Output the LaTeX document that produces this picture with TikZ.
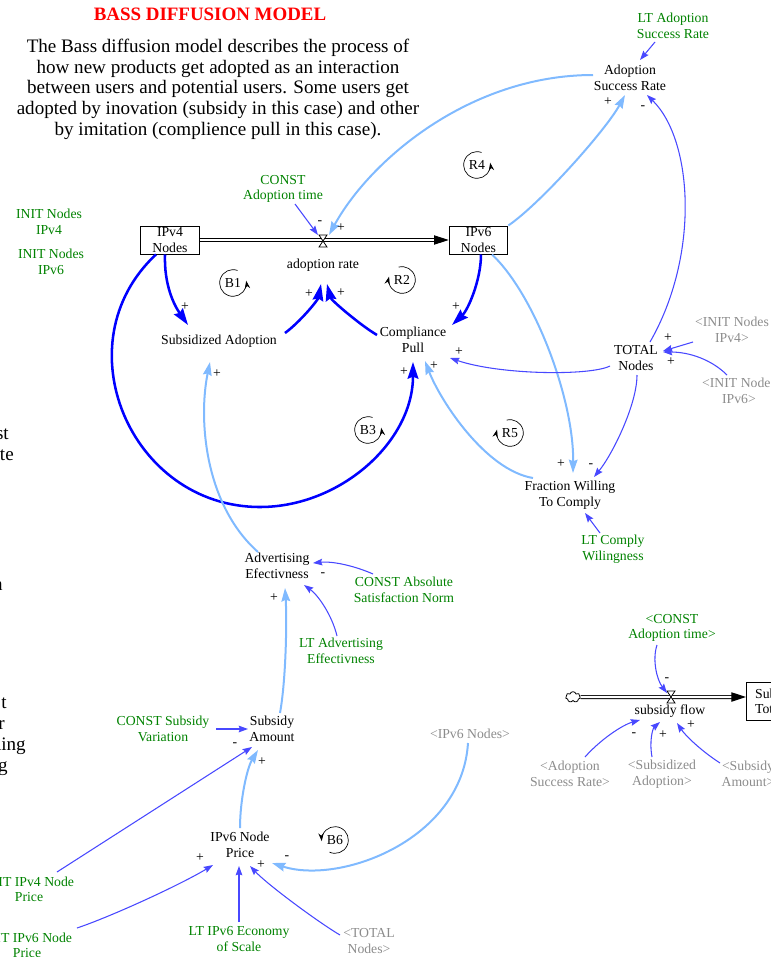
\documentclass[tikz,border=0pt]{standalone}
\usepackage{fontspec}
\setmainfont{Liberation Serif}
\usetikzlibrary{arrows.meta,calc,shapes.symbols}

\definecolor{lnkdark}{RGB}{0,0,255}
\definecolor{lnklight}{RGB}{128,186,255}
\definecolor{lnkthin}{RGB}{72,72,255}
\definecolor{cstgreen}{RGB}{0,130,0}
\definecolor{shadowgray}{RGB}{140,140,140}

\newcommand{\varfont}{\fontsize{10.3}{11.6}\selectfont}
\newcommand{\descfont}{\fontsize{14.3}{15.6}\selectfont}

\tikzset{
  var/.style={font=\varfont, align=center, inner sep=1pt},
  cst/.style={var, text=cstgreen},
  shd/.style={var, text=shadowgray},
  stockbox/.style={var, draw, line width=0.75pt, minimum width=44pt, minimum height=21pt, inner sep=0pt},
  sgn/.style={font=\varfont, inner sep=0pt},
  frag/.style={font=\descfont, anchor=base east, inner sep=0pt},
  dlink/.style={draw=lnkdark, line width=1.9pt, -{Stealth[length=12.5pt,width=8pt,inset=1.5pt]}},
  llink/.style={draw=lnklight, line width=1.5pt, -{Stealth[length=10pt,width=6.5pt,inset=1.2pt]}},
  tlink/.style={draw=lnkthin, line width=0.8pt, -{Stealth[length=7pt,width=5pt,inset=1pt]}},
  pipe/.style={draw=black, line width=0.7pt, double=white, double distance=1.6pt},
  pipehead/.style={draw=black, line width=0.7pt, -{Triangle[length=11pt,width=7pt]}},
  loopid/.style={font=\varfont, inner sep=0pt},
  loopring/.style={draw=black, line width=0.5pt, -{Stealth[length=6pt,width=4pt]}},
  hourglass/.pic={\draw[fill=white, line width=0.6pt] (-4,-6) -- (4,-6) -- (-4,6) -- (4,6) -- cycle;}
}

\begin{document}
\begin{tikzpicture}[x=0.75pt,y=-0.75pt]
\useasboundingbox (0,0) rectangle (771,957);
\clip (0,0) rectangle (771,957);

% heading and explanation
\node[font=\fontsize{14.2}{16}\selectfont\bfseries, text=red, anchor=base, inner sep=0pt] (title) at (210,20.7) {BASS DIFFUSION MODEL};
\node[font=\descfont, align=center, anchor=north, inner sep=0pt] (desc) at (218,38.6)
  {The Bass diffusion model describes the process of\\
   how new products get adopted as an interaction\\
   between users and potential users. Some users get\\
   adopted by inovation (subsidy in this case) and other\\
   by imitation (complience pull in this case).};

% text running in from the left edge
\node[frag] (fa) at (9,439) {st};
\node[frag] (fb) at (14,460) {te};
\node[frag] (fc) at (3,590) {n};
\node[frag] (fd) at (7,708) {t};
\node[frag] (fe) at (5,729) {r};
\node[frag] (ff) at (26,750) {hing};
\node[frag] (fg) at (8,771) {g};

% variables
\node[cst] (ltasr) at (673,26) {LT Adoption\\Success Rate};
\node[var] (asr) at (630,78) {Adoption\\Success Rate};
\node[cst] (cat) at (283,189) {CONST\\Adoption time};
\node[cst] (initv4) at (49,222) {INIT Nodes\\IPv4};
\node[cst] (initv6) at (51,262) {INIT Nodes\\IPv6};
\node[stockbox] (ipv4) at (170,240) {IPv4\\Nodes};
\node[stockbox] (ipv6) at (478.5,240) {IPv6\\Nodes};
\coordinate (valve) at (323,241);
\node[var] (adr) at (323,265) {adoption rate};
\node[var] (sa) at (219,341) {Subsidized Adoption};
\node[var] (cp) at (413,340) {Compliance\\Pull};
\node[var] (tn) at (636,358) {TOTAL\\Nodes};
\node[shd] (iv4sh) at (732,330) {<INIT Nodes\\IPv4>};
\node[shd] (iv6sh) at (739,391) {<INIT Nodes\\IPv6>};
\node[var] (fw) at (570,495) {Fraction Willing\\To Comply};
\node[cst] (lcw) at (613,549) {LT Comply\\Wilingness};
\node[var] (ae) at (277,566) {Advertising\\Efectivness};
\node[cst] (casn) at (404,590) {CONST Absolute\\Satisfaction Norm};
\node[cst] (lae) at (341,651) {LT Advertising\\Effectivness};
\node[cst] (csv) at (163,729) {CONST Subsidy\\Variation};
\node[var] (sam) at (272,729) {Subsidy\\Amount};
\node[shd] (ipv6sh) at (470,734) {<IPv6 Nodes>};
\node[var] (price) at (240,845) {IPv6 Node\\Price};
\node[cst] (lt4) at (29,889.5) {INIT IPv4 Node\\Price};
\node[cst] (lt6) at (27,945.5) {INIT IPv6 Node\\Price};
\node[cst] (lte) at (239,939) {LT IPv6 Economy\\of Scale};
\node[shd] (tnsh) at (369,941) {<TOTAL\\Nodes>};

% subsidy sub-model
\node[draw, cloud, cloud puffs=7, minimum width=11pt, minimum height=8pt, inner sep=0pt, line width=0.6pt] (cloud) at (573,697) {};
\node[var, draw, line width=0.75pt, anchor=west, text width=48pt, align=left, inner xsep=6.5pt, minimum height=28.5pt] (stot) at (746,701.5) {Subsidy\\Total};
\coordinate (svalve) at (671,697);
\node[var] (sf) at (670,711) {subsidy flow};
\node[cst] (cat2) at (672,628) {<CONST\\Adoption time>};
\node[shd] (asrsh) at (570,774) {<Adoption\\Success Rate>};
\node[shd] (sash) at (662,774) {<Subsidized\\Adoption>};
\node[shd] (samsh) at (748,774) {<Subsidy\\Amount>};

% flow pipes and valves
\draw[pipe] (ipv4.east) -- ($(ipv6.west)+(-14,0)$);
\draw[pipehead] ($(ipv6.west)+(-14,0)$) -- (ipv6.west);
\pic at (valve) {hourglass};
\draw[pipe] (cloud.east) -- ($(stot.west)+(-14,-4.5)$);
\draw[pipehead] ($(stot.west)+(-14,-4.5)$) -- ($(stot.west)+(0,-4.5)$);
\pic at (svalve) {hourglass};

% causal links
\draw[tlink] ($(ltasr)+(-18,16)$) -- ($(asr)+(10,-18)$);
\draw[llink] (ipv6.north east) .. controls (540,204) and (606,130) .. ($(asr)+(-5,17)$);
\draw[tlink] ($(tn)+(14,-16)$) .. controls (700,255) and (693,140) .. ($(asr)+(17,17)$);
\draw[llink] ($(asr)+(-37,-3)$) .. controls (470,75) and (370,160) .. ($(valve)+(6,-6)$);
\draw[tlink] ($(cat)+(12,15)$) -- ($(valve)+(-5,-6)$);
\draw[dlink] ($(ipv4.south)+(-5,0)$) .. controls (164,285) and (174,305) .. ($(sa)+(-31,-16)$);
\draw[dlink] ($(ipv4.south)+(-14,0)$) .. controls (61,343) and (130,507) .. (260,507)
   .. controls (340,507) and (413,442) .. ($(cp)+(0,22)$);
\draw[dlink] ($(sa)+(66,-8)$) .. controls (300,322) and (318,300) .. ($(adr)+(-2,19)$);
\draw[dlink] ($(cp)+(-36,-5)$) .. controls (360,325) and (331,300) .. ($(adr)+(4,19)$);
\draw[dlink] ($(ipv6.south)+(2.5,0)$) .. controls (481,280) and (468,310) .. ($(cp)+(39,-15)$);
\draw[llink] ($(ipv6.south)+(13.5,0)$) .. controls (535,295) and (574,400) .. ($(fw)+(3,-22)$);
\draw[tlink] ($(tn)+(-26,8)$) .. controls (590,376) and (500,375) .. ($(cp)+(37,18)$);
\draw[tlink] ($(tn)+(1,17)$) .. controls (637,405) and (612,455) .. ($(fw)+(24,-18)$);
\draw[tlink] ($(iv4sh)+(-39,12)$) -- ($(tn)+(27,-7)$);
\draw[tlink] ($(iv6sh)+(-12,-16)$) .. controls (712,360) and (690,352) .. ($(tn)+(27,-6)$);
\draw[llink] ($(fw)+(-37,-17)$) .. controls (485,470) and (440,400) .. ($(cp)+(12,21)$);
\draw[tlink] ($(lcw)+(-13,-16)$) -- ($(fw)+(15,18)$);
\draw[llink] ($(ae)+(-19,-14)$) .. controls (205,505) and (198,420) .. ($(sa)+(-9,21)$);
\draw[tlink] ($(casn)+(-31,-16)$) .. controls (355,566) and (333,561) .. ($(ae)+(36,-3)$);
\draw[tlink] ($(lae)+(-4,-15)$) .. controls (332,615) and (318,595) .. ($(ae)+(27,19)$);
\draw[llink] ($(sam)+(8,-16)$) .. controls (286,680) and (287,620) .. ($(ae)+(8,22)$);
\draw[tlink] ($(csv)+(53,0)$) -- ($(sam)+(-24,0)$);
\draw[tlink] ($(lt4)+(28,-17.5)$) -- ($(sam)+(-20,18)$);
\draw[llink] ($(price)+(0,-17)$) .. controls (240,800) and (247,768) .. ($(sam)+(-14,21)$);
\draw[tlink] ($(lt6)+(50,-17.5)$) .. controls (110,917) and (180,885) .. ($(price)+(-27,20)$);
\draw[tlink] ($(lte)+(0,-17)$) -- ($(price)+(-1,21)$);
\draw[tlink] ($(tnsh)+(-29,-6)$) .. controls (318,922) and (268,885) .. ($(price)+(10,21)$);
\draw[llink] ($(ipv6sh)+(-2,9)$) .. controls (462,840) and (340,885) .. ($(price)+(32,18)$);
\draw[tlink] ($(cat2)+(-15,17)$) .. controls (652,660) and (657,680) .. ($(svalve)+(-4,-4)$);
\draw[tlink] ($(asrsh)+(15,-17)$) .. controls (600,740) and (622,725) .. ($(sf)+(-30,9)$);
\draw[tlink] ($(sash)+(-10,-17)$) .. controls (649,740) and (653,728) .. ($(sf)+(-10,11)$);
\draw[tlink] ($(samsh)+(-28,-11)$) .. controls (700,750) and (685,735) .. ($(sf)+(7,12)$);

% polarities
\node[sgn] (s1) at (608,102) {+};
\node[sgn] (s2) at (643,108) {-};
\node[sgn] (s3) at (320,223) {-};
\node[sgn] (s4) at (341,228) {+};
\node[sgn] (s5) at (185,307) {+};
\node[sgn] (s6) at (309,294) {+};
\node[sgn] (s7) at (341,293) {+};
\node[sgn] (s8) at (456,307) {+};
\node[sgn] (s9) at (459,352) {+};
\node[sgn] (s10) at (404,372) {+};
\node[sgn] (s11) at (434,366) {+};
\node[sgn] (s12) at (668,338) {+};
\node[sgn] (s13) at (671,362) {+};
\node[sgn] (s14) at (561,464) {+};
\node[sgn] (s15) at (591,466) {-};
\node[sgn] (s16) at (217,374) {+};
\node[sgn] (s17) at (323,575) {-};
\node[sgn] (s18) at (274,598) {+};
\node[sgn] (s19) at (235,745) {-};
\node[sgn] (s20) at (262,762) {+};
\node[sgn] (s21) at (200,858) {+};
\node[sgn] (s22) at (261,865) {+};
\node[sgn] (s23) at (287,858) {-};
\node[sgn] (s24) at (667,680) {-};
\node[sgn] (s25) at (634,735) {-};
\node[sgn] (s26) at (663,735) {+};
\node[sgn] (s27) at (691,725) {+};

% loop identifiers
\node[loopid] (B1) at (233,283) {B1};
\draw[loopring] ($(B1)+(70:10pt)$) arc[start angle=70, end angle=370, radius=10pt];
\node[loopid] (R2) at (402,280) {R2};
\draw[loopring] ($(R2)+(105:10pt)$) arc[start angle=105, end angle=-195, radius=10pt];
\node[loopid] (R4) at (477,165) {R4};
\draw[loopring] ($(R4)+(70:10pt)$) arc[start angle=70, end angle=370, radius=10pt];
\node[loopid] (B3) at (368,430) {B3};
\draw[loopring] ($(B3)+(70:10pt)$) arc[start angle=70, end angle=370, radius=10pt];
\node[loopid] (R5) at (510,433) {R5};
\draw[loopring] ($(R5)+(105:10pt)$) arc[start angle=105, end angle=-195, radius=10pt];
\node[loopid] (B6) at (335,840) {B6};
\draw[loopring] ($(B6)+(-115:10pt)$) arc[start angle=-115, end angle=185, radius=10pt];
\end{tikzpicture}
\end{document}
